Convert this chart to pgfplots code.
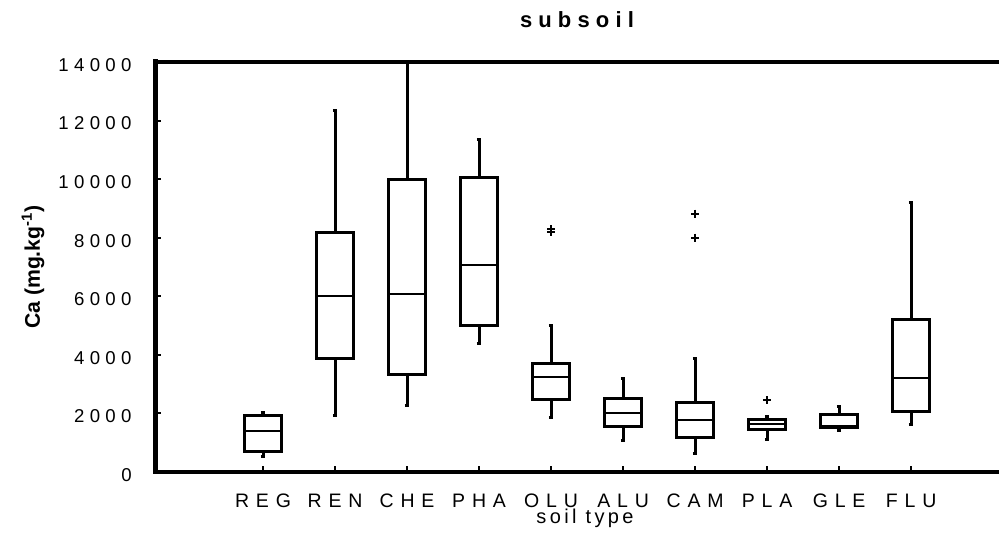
\documentclass[border=0pt]{standalone}
\usepackage{fontspec}
\setmainfont{Liberation Sans}
\newfontfamily\tickfont{Liberation Sans}[LetterSpace=35]
\newfontfamily\ytickfont{Liberation Sans}[LetterSpace=29]
\newfontfamily\titlefont{Liberation Sans}[LetterSpace=28]
\newfontfamily\xlabfont{Liberation Sans}[LetterSpace=17]
\usepackage{pgfplots}
\pgfplotsset{compat=1.18}
\usepgfplotslibrary{statistics}

\pgfplotsset{
  soilbox/.style={
    black, solid, line width=1.5pt,
    boxplot/draw direction=y,
    boxplot/box extend=0.52,
    boxplot/whisker extend=0.06,
    boxplot/every median/.style={line width=1pt},
  },
}

\begin{document}
\begin{tikzpicture}
\begin{axis}[
  width=422pt, height=205pt, scale only axis,
  xmin=-0.5, xmax=11.22,
  ymin=0, ymax=14000,
  scaled y ticks=false,
  axis line style={draw=none},
  xtick={1,...,10},
  xticklabels={REG,REN,CHE,PHA,OLU,ALU,CAM,PLA,GLE,FLU},
  ytick={0,2000,...,14000},
  yticklabels={0,2000,4000,6000,8000,10000,12000,14000},
  xtick pos=left, ytick pos=left,
  tick align=inside,
  major tick length=3pt,
  tick style={black, line width=1pt},
  xticklabel style={font=\tickfont\fontsize{9.75}{11}\selectfont,
    anchor=north, inner sep=0pt, text height=7pt, text depth=0pt, yshift=-10.5pt},
  yticklabel style={font=\ytickfont\fontsize{9.3}{11}\selectfont,
    anchor=east, inner sep=0pt, xshift=-11.5pt, yshift=-1.5pt},
  title={\titlefont\bfseries subsoil},
  title style={at={(axis description cs:0.5,1)}, anchor=center, yshift=15pt,
    font=\fontsize{11}{13}\selectfont},
  xlabel={\xlabfont soil type},
  every axis x label/.style={at={(axis description cs:0.5,0)}, anchor=north,
    inner sep=0pt, xshift=4pt, yshift=-18.5pt, font=\fontsize{10}{12}\selectfont},
  ylabel={\bfseries Ca (mg.kg\textsuperscript{-1})},
  every axis y label/.style={at={(axis description cs:-0.1445,0.5)},
    rotate=90, anchor=center, font=\fontsize{10.6}{12}\selectfont},
  clip=false,
]
\coordinate (bl) at (rel axis cs:0,0);
\coordinate (tr) at (rel axis cs:1,1);
% frame: top, left and bottom lines (open on the right)
\draw[line width=2pt, line cap=rect] (rel axis cs:1,1) -- (rel axis cs:0,1);
\draw[line width=2pt, line cap=rect] (rel axis cs:0,0) -- (rel axis cs:1,0);
\draw[line width=2.5pt, line cap=rect] (rel axis cs:0,0) -- (rel axis cs:0,1);

% REG
\addplot[soilbox, boxplot prepared={draw position=1,
  lower whisker=546, lower quartile=693, median=1410,
  upper quartile=1946, upper whisker=2048}] coordinates {};
% REN
\addplot[soilbox, boxplot prepared={draw position=2,
  lower whisker=1923, lower quartile=3880, median=6020,
  upper quartile=8184, upper whisker=12360}] coordinates {};
% CHE
\addplot[soilbox, boxplot prepared={draw position=3,
  lower whisker=2264, lower quartile=3346, median=6077,
  upper quartile=9993, upper whisker=14000}] coordinates {};
% PHA
\addplot[soilbox, boxplot prepared={draw position=4,
  lower whisker=4394, lower quartile=5008, median=7067,
  upper quartile=10072, upper whisker=11370}] coordinates {};
% OLU
\addplot[soilbox, boxplot prepared={draw position=5,
  lower whisker=1866, lower quartile=2469, median=3233,
  upper quartile=3721, upper whisker=5019}] coordinates {};
% ALU
\addplot[soilbox, boxplot prepared={draw position=6,
  lower whisker=1070, lower quartile=1548, median=2003,
  upper quartile=2515, upper whisker=3198}] coordinates {};
% CAM
\addplot[soilbox, boxplot prepared={draw position=7,
  lower whisker=637, lower quartile=1172, median=1764,
  upper quartile=2356, upper whisker=3880}] coordinates {};
% PLA
\addplot[soilbox, boxplot prepared={draw position=8,
  lower whisker=1126, lower quartile=1457, median=1638,
  upper quartile=1809, upper whisker=1900}] coordinates {};
% GLE
\addplot[soilbox, boxplot prepared={draw position=9,
  lower whisker=1410, lower quartile=1513, median=1560,
  upper quartile=1980, upper whisker=2253}] coordinates {};
% FLU
\addplot[soilbox, boxplot prepared={draw position=10,
  lower whisker=1605, lower quartile=2059, median=3198,
  upper quartile=5224, upper whisker=9208}] coordinates {};

% outlying samples (OLU, CAM, PLA)
\addplot[only marks, black, mark=+, mark size=2pt,
  mark options={solid, line width=1pt}] coordinates {
  (5,8286) (5,8184)
  (7,8820) (7,8002)
  (8,2458)
};
\end{axis}
\pgfresetboundingbox
\path[use as bounding box] ([shift={(-77.5pt,-30.5pt)}]bl) rectangle ([shift={(0pt,31pt)}]tr);
\end{tikzpicture}
\end{document}
